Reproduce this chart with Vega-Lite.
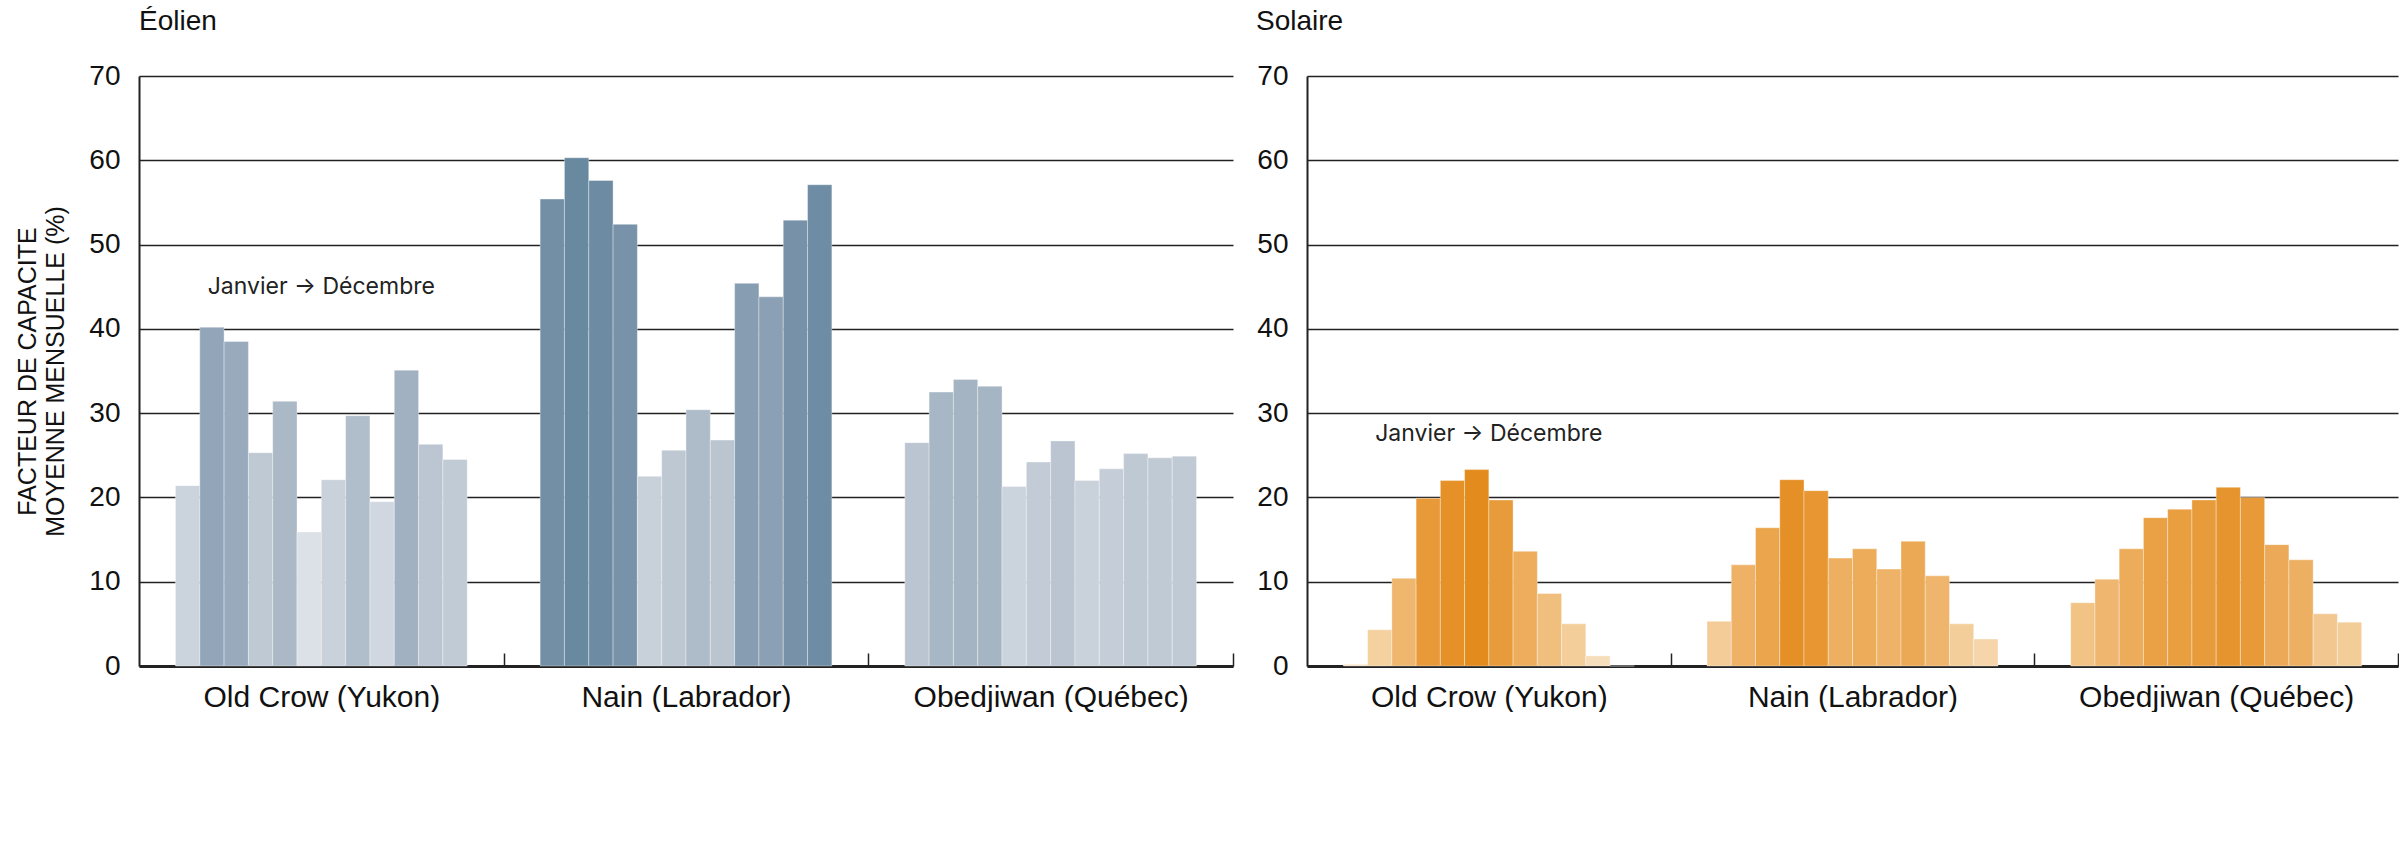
{
  "$schema": "https://vega.github.io/schema/vega-lite/v6.json",
  "padding": {"left": 15, "top": 8, "right": 0, "bottom": 0},
  "background": "white",
  "spacing": 74,
  "bounds": "flush",
  "datasets": {
    "eolien": [
      {"site": "Old Crow (Yukon)", "month": 1, "value": 21.4},
      {"site": "Old Crow (Yukon)", "month": 2, "value": 40.2},
      {"site": "Old Crow (Yukon)", "month": 3, "value": 38.5},
      {"site": "Old Crow (Yukon)", "month": 4, "value": 25.3},
      {"site": "Old Crow (Yukon)", "month": 5, "value": 31.4},
      {"site": "Old Crow (Yukon)", "month": 6, "value": 15.9},
      {"site": "Old Crow (Yukon)", "month": 7, "value": 22.1},
      {"site": "Old Crow (Yukon)", "month": 8, "value": 29.7},
      {"site": "Old Crow (Yukon)", "month": 9, "value": 19.5},
      {"site": "Old Crow (Yukon)", "month": 10, "value": 35.1},
      {"site": "Old Crow (Yukon)", "month": 11, "value": 26.3},
      {"site": "Old Crow (Yukon)", "month": 12, "value": 24.5},
      {"site": "Nain (Labrador)", "month": 1, "value": 55.4},
      {"site": "Nain (Labrador)", "month": 2, "value": 60.3},
      {"site": "Nain (Labrador)", "month": 3, "value": 57.6},
      {"site": "Nain (Labrador)", "month": 4, "value": 52.4},
      {"site": "Nain (Labrador)", "month": 5, "value": 22.5},
      {"site": "Nain (Labrador)", "month": 6, "value": 25.6},
      {"site": "Nain (Labrador)", "month": 7, "value": 30.4},
      {"site": "Nain (Labrador)", "month": 8, "value": 26.8},
      {"site": "Nain (Labrador)", "month": 9, "value": 45.4},
      {"site": "Nain (Labrador)", "month": 10, "value": 43.8},
      {"site": "Nain (Labrador)", "month": 11, "value": 52.9},
      {"site": "Nain (Labrador)", "month": 12, "value": 57.1},
      {"site": "Obedjiwan (Québec)", "month": 1, "value": 26.5},
      {"site": "Obedjiwan (Québec)", "month": 2, "value": 32.5},
      {"site": "Obedjiwan (Québec)", "month": 3, "value": 34.0},
      {"site": "Obedjiwan (Québec)", "month": 4, "value": 33.2},
      {"site": "Obedjiwan (Québec)", "month": 5, "value": 21.3},
      {"site": "Obedjiwan (Québec)", "month": 6, "value": 24.2},
      {"site": "Obedjiwan (Québec)", "month": 7, "value": 26.7},
      {"site": "Obedjiwan (Québec)", "month": 8, "value": 22.0},
      {"site": "Obedjiwan (Québec)", "month": 9, "value": 23.4},
      {"site": "Obedjiwan (Québec)", "month": 10, "value": 25.2},
      {"site": "Obedjiwan (Québec)", "month": 11, "value": 24.7},
      {"site": "Obedjiwan (Québec)", "month": 12, "value": 24.9}
    ],
    "solaire": [
      {"site": "Old Crow (Yukon)", "month": 1, "value": 0.2},
      {"site": "Old Crow (Yukon)", "month": 2, "value": 4.3},
      {"site": "Old Crow (Yukon)", "month": 3, "value": 10.4},
      {"site": "Old Crow (Yukon)", "month": 4, "value": 19.9},
      {"site": "Old Crow (Yukon)", "month": 5, "value": 22.0},
      {"site": "Old Crow (Yukon)", "month": 6, "value": 23.3},
      {"site": "Old Crow (Yukon)", "month": 7, "value": 19.7},
      {"site": "Old Crow (Yukon)", "month": 8, "value": 13.6},
      {"site": "Old Crow (Yukon)", "month": 9, "value": 8.6},
      {"site": "Old Crow (Yukon)", "month": 10, "value": 5.0},
      {"site": "Old Crow (Yukon)", "month": 11, "value": 1.2},
      {"site": "Old Crow (Yukon)", "month": 12, "value": 0},
      {"site": "Nain (Labrador)", "month": 1, "value": 5.3},
      {"site": "Nain (Labrador)", "month": 2, "value": 12.0},
      {"site": "Nain (Labrador)", "month": 3, "value": 16.4},
      {"site": "Nain (Labrador)", "month": 4, "value": 22.1},
      {"site": "Nain (Labrador)", "month": 5, "value": 20.8},
      {"site": "Nain (Labrador)", "month": 6, "value": 12.8},
      {"site": "Nain (Labrador)", "month": 7, "value": 13.9},
      {"site": "Nain (Labrador)", "month": 8, "value": 11.5},
      {"site": "Nain (Labrador)", "month": 9, "value": 14.8},
      {"site": "Nain (Labrador)", "month": 10, "value": 10.7},
      {"site": "Nain (Labrador)", "month": 11, "value": 5.0},
      {"site": "Nain (Labrador)", "month": 12, "value": 3.2},
      {"site": "Obedjiwan (Québec)", "month": 1, "value": 7.5},
      {"site": "Obedjiwan (Québec)", "month": 2, "value": 10.3},
      {"site": "Obedjiwan (Québec)", "month": 3, "value": 13.9},
      {"site": "Obedjiwan (Québec)", "month": 4, "value": 17.6},
      {"site": "Obedjiwan (Québec)", "month": 5, "value": 18.6},
      {"site": "Obedjiwan (Québec)", "month": 6, "value": 19.7},
      {"site": "Obedjiwan (Québec)", "month": 7, "value": 21.2},
      {"site": "Obedjiwan (Québec)", "month": 8, "value": 20.0},
      {"site": "Obedjiwan (Québec)", "month": 9, "value": 14.4},
      {"site": "Obedjiwan (Québec)", "month": 10, "value": 12.6},
      {"site": "Obedjiwan (Québec)", "month": 11, "value": 6.2},
      {"site": "Obedjiwan (Québec)", "month": 12, "value": 5.2}
    ]
  },
  "resolve": {"scale": {"x": "independent", "y": "independent", "color": "independent", "xOffset": "independent"}},
  "hconcat": [
    {
      "width": 1094,
      "height": 590,
      "title": {"text": "Éolien"},
      "layer": [
        {
          "data": {"name": "eolien"},
          "mark": {"type": "bar", "stroke": "#ffffff", "strokeWidth": 1, "strokeOpacity": 0.35},
          "encoding": {
            "x": {"field": "site", "type": "nominal", "sort": null,
                  "scale": {"paddingInner": 0.2, "paddingOuter": 0.1},
                  "axis": {"title": null, "tickOffset": 182.33, "labelOffset": -182.33}},
            "xOffset": {"field": "month", "type": "ordinal",
                        "scale": {"paddingInner": 0, "paddingOuter": 0}},
            "y": {"field": "value", "type": "quantitative",
                  "scale": {"domain": [0, 70], "nice": false},
                  "axis": {"values": [0, 10, 20, 30, 40, 50, 60, 70],
                           "title": ["FACTEUR DE CAPACITE", "MOYENNE MENSUELLE (%)"]}},
            "color": {"field": "value", "type": "quantitative", "legend": null,
                      "scale": {"domain": [15.9, 22.1, 29.7, 40.2, 52.4, 60.3],
                                "range": ["#DCE0E7", "#C9D1DB", "#B0BDCA", "#93A6B9", "#7893A9", "#6889A0"],
                                "interpolate": "rgb"}}
          }
        },
        {
          "data": {"values": [{}]},
          "mark": {"type": "text", "fontSize": 23, "font": "Inter", "color": "#222222", "align": "center", "baseline": "middle"},
          "encoding": {
            "x": {"datum": "Old Crow (Yukon)"},
            "y": {"datum": 45},
            "text": {"value": "Janvier → Décembre"}
          }
        }
      ]
    },
    {
      "width": 1091,
      "height": 590,
      "title": {"text": "Solaire", "dx": -51},
      "layer": [
        {
          "data": {"name": "solaire"},
          "mark": {"type": "bar", "stroke": "#ffffff", "strokeWidth": 1, "strokeOpacity": 0.35},
          "encoding": {
            "x": {"field": "site", "type": "nominal", "sort": null,
                  "scale": {"paddingInner": 0.2, "paddingOuter": 0.1},
                  "axis": {"title": null, "tickOffset": 181.83, "labelOffset": -181.83}},
            "xOffset": {"field": "month", "type": "ordinal",
                        "scale": {"paddingInner": 0, "paddingOuter": 0}},
            "y": {"field": "value", "type": "quantitative",
                  "scale": {"domain": [0, 70], "nice": false},
                  "axis": {"values": [0, 10, 20, 30, 40, 50, 60, 70], "title": null}},
            "color": {"field": "value", "type": "quantitative", "legend": null,
                      "scale": {"domain": [0, 4.2, 10.4, 20, 23.3],
                                "range": ["#F7E2C6", "#F4D1A0", "#EFB66E", "#E89A38", "#E38B1C"],
                                "interpolate": "rgb"}}
          }
        },
        {
          "data": {"values": [{}]},
          "mark": {"type": "text", "fontSize": 23, "font": "Inter", "color": "#222222", "align": "center", "baseline": "middle"},
          "encoding": {
            "x": {"datum": "Old Crow (Yukon)"},
            "y": {"datum": 27.5},
            "text": {"value": "Janvier → Décembre"}
          }
        }
      ]
    }
  ],
  "config": {
    "font": "Liberation Sans",
    "view": {"stroke": null},
    "title": {"anchor": "start", "frame": "group", "fontSize": 28, "fontWeight": "normal", "color": "#111111", "offset": 26},
    "axisX": {
      "labelFontSize": 30, "labelColor": "#111111", "labelAngle": 0, "labelLimit": 0,
      "domainColor": "#222222", "domainWidth": 3,
      "ticks": true, "tickSize": -13, "tickColor": "#222222", "tickWidth": 1.5,
      "labelPadding": 29, "grid": false, "zindex": 1
    },
    "axisY": {
      "labelFontSize": 28, "labelColor": "#111111", "labelPadding": 19,
      "domainColor": "#222222", "domainWidth": 2, "ticks": false,
      "grid": true, "gridColor": "#222222", "gridWidth": 1.3, "gridOpacity": 1,
      "titleFontSize": 25, "titleFontWeight": "normal", "titleColor": "#111111",
      "titleLineHeight": 28, "titlePadding": 20, "zindex": 1
    }
  }
}
